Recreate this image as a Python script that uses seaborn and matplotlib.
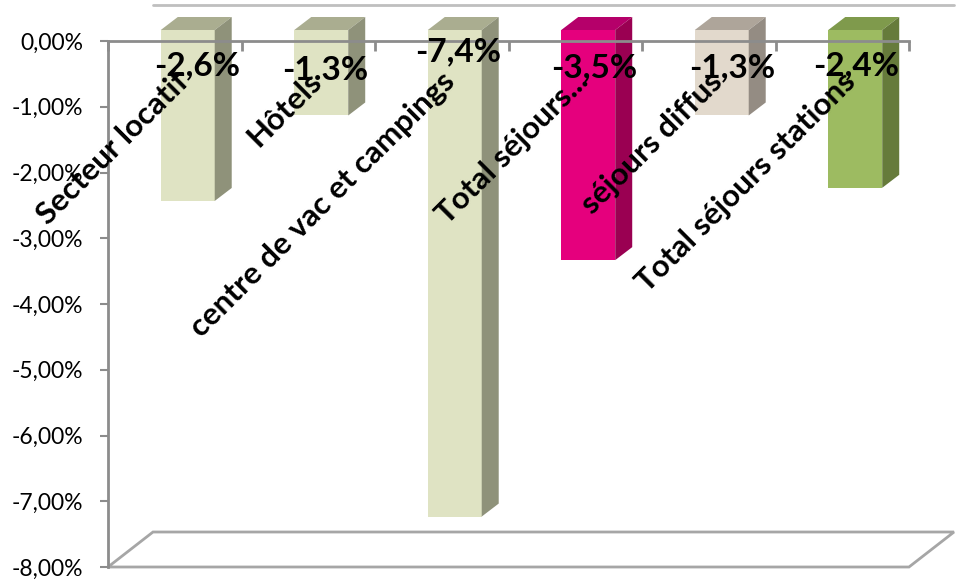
import matplotlib
matplotlib.use("Agg")
import matplotlib.pyplot as plt
import seaborn as sns
import pandas as pd
from matplotlib.patches import Polygon
from matplotlib.lines import Line2D
from matplotlib.transforms import ScaledTranslation, IdentityTransform

# ---------------- data ----------------
categories = ["Secteur locatif", "Hôtels", "centre de vac et campings",
              "Total séjours...", "séjours diffus", "Total séjours stations"]
values = [-2.6, -1.3, -7.4, -3.5, -1.3, -2.4]
value_labels = ["-2,6%", "-1.3%", "-7,4%", "-3,5%", "-1,3%", "-2,4%"]
ytick_values = [0, -1, -2, -3, -4, -5, -6, -7, -8]
ytick_labels = ["0,00%", "-1,00%", "-2,00%", "-3,00%", "-4,00%",
                "-5,00%", "-6,00%", "-7,00%", "-8,00%"]

# ---------------- styles ----------------
front_colors = ["#DFE3C3", "#DFE3C3", "#DFE3C3", "#E5007D", "#E2D9CC", "#9DBB61"]
side_colors = ["#8F927A", "#8F927A", "#8F927A", "#9A0052", "#948C83", "#667B3B"]
top_colors = ["#AAAD90", "#AAAD90", "#AAAD90", "#B5006A", "#AEA59A", "#7F9A4C"]
GRAY = "#8C8C8C"

# label placement offsets in pixels (dx, dy up positive)
value_label_offsets = [(22, -25), (17, -29), (16, -11), (19, -27), (23, -27), (14, -25)]

sns.set_theme(style="white")
plt.rcParams['font.family'] = ['Lato', 'DejaVu Sans']

DPI = 100
W, H = 966, 586
fig = plt.figure(figsize=(W / DPI, H / DPI), dpi=DPI)
ax = fig.add_axes([108 / W, 1 - 567 / H, (909 - 108) / W, (567 - 41) / H])

df = pd.DataFrame({"cat": categories, "val": values})
sns.barplot(data=df, x="cat", y="val", hue="cat", palette=front_colors,
            width=0.404, legend=False, ax=ax, saturation=1, errorbar=None)

ax.set_xlim(-0.5, 5.5)
ax.set_ylim(-8, 0)

def px(dx, dy):
    return ScaledTranslation(dx / DPI, dy / DPI, fig.dpi_scale_trans)

# 3D geometry in pixels
FX, FY = 13, 11      # front face offset from axis plane
DX, DY = 17, 13      # bar depth
BX, BY = 45, 35      # back wall offset

# floor
floor_front_l = ax.transData.transform((-0.5, -8))
floor_front_r = ax.transData.transform((5.5, -8))
floor = Polygon([floor_front_l, floor_front_r,
                 floor_front_r + [BX, BY], floor_front_l + [BX, BY]],
                closed=True, facecolor="white", edgecolor="#A6A6A6", lw=2,
                transform=IdentityTransform(), clip_on=False, zorder=0.5)
ax.add_artist(floor)

# back top line
top_l = ax.transData.transform((-0.5, 0)) + [BX, BY + 1]
top_r = ax.transData.transform((5.5, 0)) + [BX, BY + 1]
ax.add_artist(Line2D([top_l[0], top_r[0]], [top_l[1], top_r[1]], color="#BFBFBF",
                     lw=2, transform=IdentityTransform(), clip_on=False, zorder=0.5))

# 3D bars built from seaborn's bar patches
for i, p in enumerate(ax.patches[:len(values)]):
    x0, w = p.get_x(), p.get_width()
    y0, h = p.get_y(), p.get_height()
    ytop, ybot = max(y0, y0 + h), min(y0, y0 + h)
    p.set_transform(ax.transData + px(FX, FY))
    p.set_clip_on(False)
    p.set_edgecolor("none")
    p.set_zorder(1)
    xl, yt = ax.transData.transform((x0, ytop)) + [FX, FY]
    xr, yb = ax.transData.transform((x0 + w, ybot)) + [FX, FY]
    top = Polygon([(xl, yt), (xr, yt), (xr + DX, yt + DY), (xl + DX, yt + DY)],
                  closed=True, facecolor=top_colors[i], edgecolor="none",
                  transform=IdentityTransform(), clip_on=False, zorder=1)
    side = Polygon([(xr, yt), (xr + DX, yt + DY), (xr + DX, yb + DY), (xr, yb)],
                   closed=True, facecolor=side_colors[i], edgecolor="none",
                   transform=IdentityTransform(), clip_on=False, zorder=1)
    ax.add_artist(top)
    ax.add_artist(side)

# spines
for s in ["bottom", "right"]:
    ax.spines[s].set_visible(False)
for s in ["left", "top"]:
    ax.spines[s].set_color(GRAY)
    ax.spines[s].set_linewidth(2)
ax.spines["top"].set_zorder(2.5)

ax.set_xticks([k - 0.5 for k in range(len(categories) + 1)])
ax.set_xticklabels([])
ax.tick_params(axis="x", top=True, bottom=False, labeltop=False, labelbottom=False,
               direction="in", length=7, width=2, color=GRAY)
ax.set_yticks(ytick_values)
ax.set_yticklabels(ytick_labels, fontsize=16.5, color="black")
ax.tick_params(axis="y", left=True, direction="out", length=6, width=1.5,
               color=GRAY, pad=12)
ax.set_xlabel("")
ax.set_ylabel("")

# category labels (rotated, inside plot)
for i, c in enumerate(categories):
    ax.text(i, 0, c, transform=ax.transData + px(-1, -26), rotation=45,
            rotation_mode="anchor", ha="right", va="top", fontsize=22.5,
            fontweight="bold", color="black", zorder=3)

# value labels
for i, (v, lab) in enumerate(zip(values, value_labels)):
    dx, dy = value_label_offsets[i]
    ax.text(i, 0, lab, transform=ax.transData + px(dx, dy), ha="center", va="center",
            fontsize=24, fontweight="bold", color="black", zorder=4)

fig.savefig("out.png", dpi=DPI)
